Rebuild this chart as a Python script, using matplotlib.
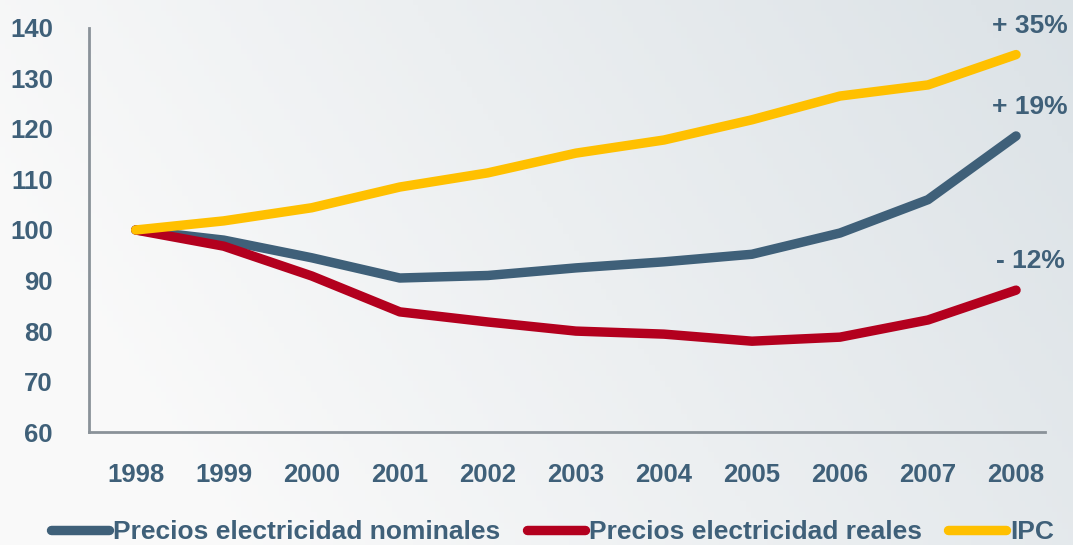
import matplotlib.pyplot as plt
import numpy as np

years = [1998, 1999, 2000, 2001, 2002, 2003, 2004, 2005, 2006, 2007, 2008]
nominales = [100, 98.0, 94.5, 90.5, 91.0, 92.5, 93.7, 95.2, 99.4, 106.0, 118.6]
reales = [100, 96.8, 90.9, 83.8, 81.8, 80.0, 79.4, 78.0, 78.8, 82.2, 88.1]
ipc = [100, 101.8, 104.4, 108.5, 111.3, 115.2, 117.8, 121.8, 126.5, 128.7, 134.7]
labels = ['Precios electricidad nominales', 'Precios electricidad reales', 'IPC']
end_notes = ['+ 19%', '- 12%', '+ 35%']

txt = '#3f6079'
colors = ['#3f6079', '#b3001e', '#ffc000']

plt.rcParams['font.family'] = ['Liberation Sans', 'DejaVu Sans']

fig = plt.figure(figsize=(10.73, 5.45), dpi=100)

# background gradient
bg = fig.add_axes([0, 0, 1, 1], zorder=-10)
gx = np.linspace(0, 1, 200)
gy = np.linspace(0, 1, 100)
X, Y = np.meshgrid(gx, gy)
t = np.clip(0.75 * X + 0.25 * (1 - Y) - 0.15, 0, 1)
c0 = np.array([0.98, 0.98, 0.98])
c1 = np.array([0.84, 0.87, 0.89])
img = c0 + (c1 - c0) * t[..., None]
bg.imshow(img, extent=[0, 1, 0, 1], aspect='auto', origin='upper')
bg.axis('off')

ax = fig.add_axes([0.083, 0.207, 0.891, 0.742])
ax.patch.set_alpha(0)

series = [nominales, reales, ipc]
for s, c, lab in zip(series, colors, labels):
    ax.plot(years, s, color=c, lw=6.8, solid_capstyle='round', solid_joinstyle='round', label=lab)

for s, note in zip(series, end_notes):
    ax.annotate(note, (years[-1], s[-1]), xytext=(10, 12), textcoords='offset points',
                ha='center', va='bottom', fontsize=19, fontweight='bold', color=txt)

ax.set_xlim(1997.47, 2008.33)
ax.set_ylim(60, 140)
ax.set_yticks(range(60, 141, 10))
ax.set_xticks(years)
ax.tick_params(length=0, labelsize=18.5, labelcolor=txt)
ax.tick_params(axis='y', pad=26)
ax.tick_params(axis='x', pad=22)
for lbl in ax.get_xticklabels() + ax.get_yticklabels():
    lbl.set_fontweight('bold')
for side in ['top', 'right']:
    ax.spines[side].set_visible(False)
for side in ['left', 'bottom']:
    ax.spines[side].set_color('#8a9299')
    ax.spines[side].set_linewidth(2)

leg = fig.legend(loc='lower center', bbox_to_anchor=(0.515, -0.042), ncol=3, frameon=False,
                 handlelength=2.2, columnspacing=1.0, handletextpad=0.15,
                 prop={'weight': 'bold', 'size': 19})
for t_ in leg.get_texts():
    t_.set_color(txt)

fig.savefig('out.png', dpi=100)
plt.close(fig)
